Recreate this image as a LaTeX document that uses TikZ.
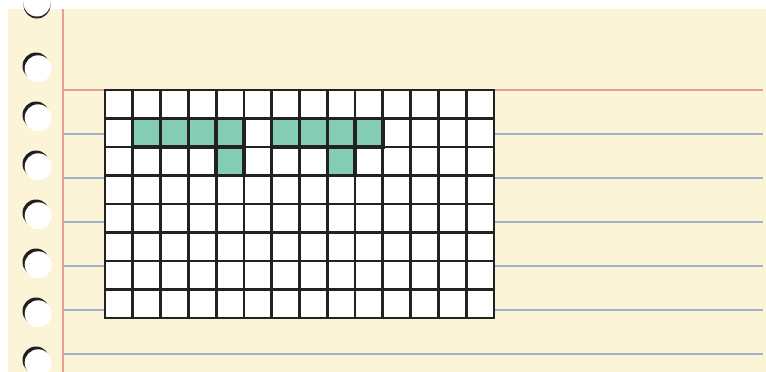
\documentclass[tikz,border=0pt]{standalone}
\definecolor{paper}{HTML}{FCF4D6}
\definecolor{marginred}{HTML}{E89C94}
\definecolor{ruleblue}{HTML}{9FB3C9}
\definecolor{cellgreen}{HTML}{84CCB4}
\definecolor{gridink}{HTML}{222222}
\tikzset{
  redrule/.style={draw=marginred, line width=1.5pt},
  bluerule/.style={draw=ruleblue, line width=1.5pt},
  gridline/.style={draw=gridink, line width=2.8pt, line cap=rect},
  greencell/.style={fill=cellgreen, draw=gridink, line width=3.4pt},
}
\begin{document}
\begin{tikzpicture}[x=1pt,y=-1pt]
\useasboundingbox (0,0) rectangle (766,372);
\fill[white] (0,0) rectangle (766,372);
% paper
\fill[paper] (8,9) rectangle (766,372);
% rules
\foreach \yy in {134,178,222,266,310,354} {
  \draw[bluerule] (64,\yy) -- (763,\yy);
}
\draw[redrule] (63,90) -- (763,90);
\draw[redrule] (63,9) -- (63,372);
% punched holes
\foreach \yy in {66,115,164,213,262,311,360} {
  \fill[black!88] (36,\yy) circle (13.5);
  \fill[white] (38.2,\yy+2.8) circle (13.5);
}
\begin{scope}
  \clip (0,0) rectangle (766,372);
  \fill[black!85] (37,5) circle (13.5);
  \fill[white] (37,3) circle (13.5);
\end{scope}
% grid
\def\gx{105}\def\gy{90}\def\cw{27.7857}\def\ch{28.5}
\fill[white] (105,90) rectangle (494,318);
\foreach \c/\r in {1/1,2/1,3/1,4/1,4/2,6/1,7/1,8/1,9/1,8/2} {
  \fill[cellgreen] ({\gx+\c*\cw},{\gy+\r*\ch}) rectangle ({\gx+(\c+1)*\cw},{\gy+(\r+1)*\ch});
}
\foreach \c in {0,...,14} {
  \draw[gridline] ({\gx+\c*\cw},90) -- ({\gx+\c*\cw},318);
}
\foreach \r in {0,...,8} {
  \draw[gridline] (105,{\gy+\r*\ch}) -- (494,{\gy+\r*\ch});
}
\foreach \c/\r in {1/1,2/1,3/1,4/1,4/2,6/1,7/1,8/1,9/1,8/2} {
  \draw[draw=gridink, line width=3.4pt] ({\gx+\c*\cw},{\gy+\r*\ch}) rectangle ({\gx+(\c+1)*\cw},{\gy+(\r+1)*\ch});
}
\end{tikzpicture}
\end{document}
